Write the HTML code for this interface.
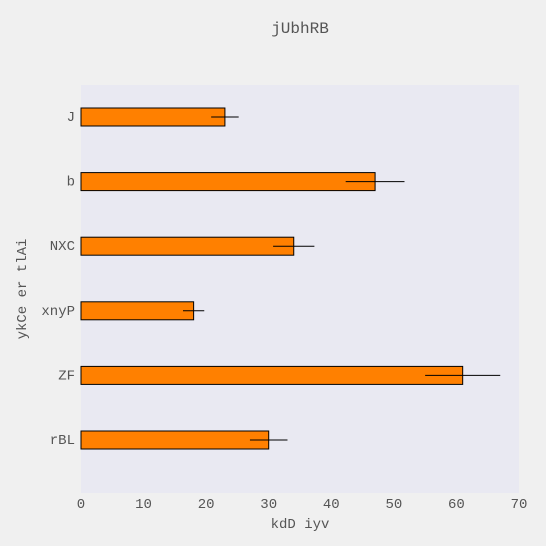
<!DOCTYPE html>
<html><head><meta charset="utf-8"><style>
body{margin:0;background:#f0f0f0;}
svg{display:block;font-family:"Liberation Mono",monospace;}
</style></head><body>
<svg id="c" width="546" height="546">
<rect width="546" height="546" fill="#f0f0f0"/>
<rect x="81" y="85" width="438" height="408" fill="#e9e9f2"/>
<text x="300" y="33" text-anchor="middle" font-size="16" fill="#555">jUbhRB</text>
<text x="300" y="528" text-anchor="middle" font-size="14" fill="#555">kdD iyv</text>
<text transform="translate(26,289) rotate(-90)" text-anchor="middle" font-size="14" fill="#555">ykCe er tlAi</text>
<g id="marks"></g>
</svg>
<script>
const categories=["J","b","NXC","xnyP","ZF","rBL"];
const values=[23,47,34,18,61,30];
const errors=[2.2,4.7,3.3,1.7,6,3];
const xTicks=[0,10,20,30,40,50,60,70];
const NS="http://www.w3.org/2000/svg";
const g=document.getElementById('marks');
const x=v=>81+v*(438/70);
const y=i=>117+i*64.6;
function mk(t,a){const e=document.createElementNS(NS,t);for(const k in a)e.setAttribute(k,a[k]);g.appendChild(e);return e;}
xTicks.forEach(t=>{const e=mk('text',{x:x(t),y:508,'text-anchor':'middle','font-size':14,fill:'#555'});e.textContent=t;

});
categories.forEach((c,i)=>{
const b=mk('rect',{x:x(0),y:y(i)-9,width:x(values[i])-x(0),height:18,fill:'#ff8000',stroke:'#000','stroke-width':1});


const l=mk('line',{x1:x(values[i]-errors[i]),x2:x(values[i]+errors[i]),y1:y(i),y2:y(i),stroke:'#000','stroke-width':1});


const t=mk('text',{x:75,y:y(i)+4,'text-anchor':'end','font-size':14,fill:'#555'});t.textContent=c;


});
</script>
</body></html>
